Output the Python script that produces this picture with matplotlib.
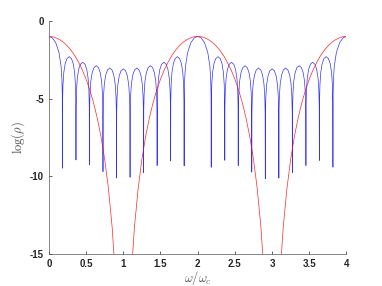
import matplotlib
matplotlib.use("Agg")
import matplotlib.pyplot as plt

plt.rcParams["mathtext.fontset"] = "cm"

# blue curve: nulls, sidelobe heights, and the arc shape
null_x = [0.182, 0.364, 0.545, 0.727, 0.909, 1.091, 1.273, 1.455, 1.636, 1.818,
          2.182, 2.364, 2.545, 2.727, 2.909, 3.091, 3.273, 3.455, 3.636, 3.818]
null_depth = [-9.47, -8.94, -9.26, -9.69, -10.1, -10.05, -9.75, -9.3, -9.0, -9.32,
              -9.41, -8.96, -9.3, -9.72, -10.15, -10.1, -9.75, -9.3, -8.97, -9.4]
side_peak = [-2.3, -2.66, -2.88, -3.03, -3.08, -3.03, -2.88, -2.66, -2.3,
             -2.3, -2.66, -2.88, -3.03, -3.08, -3.03, -2.88, -2.66, -2.3]
arc_frac = [0.012, 0.04, 0.1, 0.2, 0.33, 0.5, 0.67, 0.8, 0.9, 0.96, 0.988]
arc_drop = [-2.85, -1.80, -1.02, -0.46, -0.13, 0.0, -0.13, -0.46, -1.02, -1.80, -2.85]
main_dx = [0.0, 0.045, 0.091, 0.136, 0.164, 0.175, 0.180]
main_dy = [-1.0, -1.09, -1.39, -2.04, -2.92, -3.75, -4.82]

# red curve
red_x = [0.0, 0.05, 0.1, 0.15, 0.2, 0.25, 0.3, 0.35, 0.4, 0.45, 0.5, 0.55, 0.6, 0.65,
         0.7, 0.75, 0.8, 0.85, 0.9,
         1.1, 1.15, 1.2, 1.25, 1.3, 1.35, 1.4, 1.45, 1.5, 1.55, 1.6, 1.65, 1.7, 1.75,
         1.8, 1.85, 1.9, 1.95, 2.0, 2.05, 2.1, 2.15, 2.2, 2.25, 2.3, 2.35, 2.4, 2.45,
         2.5, 2.55, 2.6, 2.65, 2.7, 2.75, 2.8, 2.85, 2.9,
         3.1, 3.15, 3.2, 3.25, 3.3, 3.35, 3.4, 3.45, 3.5, 3.55, 3.6, 3.65, 3.7, 3.75,
         3.8, 3.85, 3.9, 3.95, 4.0]
red_y = [-1.0, -1.02, -1.1, -1.22, -1.39, -1.62, -1.9, -2.25, -2.67, -3.16, -3.75,
         -4.44, -5.26, -6.25, -7.43, -8.9, -10.76, -13.25, -16.87,
         -16.87, -13.25, -10.76, -8.9, -7.43, -6.25, -5.26, -4.44, -3.75, -3.16,
         -2.67, -2.25, -1.9, -1.62, -1.39, -1.22, -1.1, -1.02, -1.0, -1.02, -1.1,
         -1.22, -1.39, -1.62, -1.9, -2.25, -2.67, -3.16, -3.75, -4.44, -5.26, -6.25,
         -7.43, -8.9, -10.76, -13.25, -16.87,
         -16.87, -13.25, -10.76, -8.9, -7.43, -6.25, -5.26, -4.44, -3.75, -3.16,
         -2.67, -2.25, -1.9, -1.62, -1.39, -1.22, -1.1, -1.02, -1.0]

x_ticks = [0, 0.5, 1, 1.5, 2, 2.5, 3, 3.5, 4]
x_labels = ["0", "0.5", "1", "1.5", "2", "2.5", "3", "3.5", "4"]
y_ticks = [-15, -10, -5, 0]
y_labels = ["-15", "-10", "-5", "0"]

# put the blue curve together lobe by lobe
main = list(zip(main_dx, main_dy))
pts = [(dx, dy) for dx, dy in main]
k = 0
for i in range(len(null_x)):
    pts.append((null_x[i], null_depth[i]))
    if i == 9:
        pts += [(2 - dx, dy) for dx, dy in reversed(main)]
        pts += [(2 + dx, dy) for dx, dy in main[1:]]
    elif i == len(null_x) - 1:
        pts += [(4 - dx, dy) for dx, dy in reversed(main)]
    else:
        a, b = null_x[i], null_x[i + 1]
        pts += [(a + f * (b - a), side_peak[k] + d) for f, d in zip(arc_frac, arc_drop)]
        k += 1
blue_x = [p[0] for p in pts]
blue_y = [p[1] for p in pts]

fig = plt.figure(figsize=(3.82, 2.86), dpi=100)
ax = fig.add_axes([0.128, 0.111, 0.779, 0.816])

ax.plot(blue_x, blue_y, color="#0000ff", linewidth=0.5, alpha=0.8)
ax.plot(red_x, red_y, color="#ff0000", linewidth=0.5, alpha=0.85)

ax.set_xlim(0, 4)
ax.set_ylim(-15, 0)
ax.set_xticks(x_ticks)
ax.set_xticklabels(x_labels)
ax.set_yticks(y_ticks)
ax.set_yticklabels(y_labels)

for s in ["top", "right"]:
    ax.spines[s].set_visible(False)
for s in ["left", "bottom"]:
    ax.spines[s].set_color("#555555")
    ax.spines[s].set_linewidth(0.5)

ax.tick_params(direction="in", length=2.5, width=0.5, color="#262626")
ax.tick_params(axis="y", pad=3.5)
ax.tick_params(axis="x", pad=3.5)
for lab in ax.get_xticklabels() + ax.get_yticklabels():
    lab.set_family("Liberation Sans")
    lab.set_fontweight("bold")
    lab.set_fontsize(7)
    lab.set_color("#262626")

ax.set_xlabel(r"$\omega/\omega_c$", fontsize=9, color="#505050", labelpad=0)
ax.set_ylabel(r"$\log(\rho)$", fontsize=9, color="#505050", labelpad=2)

fig.savefig("out.png", dpi=100)
